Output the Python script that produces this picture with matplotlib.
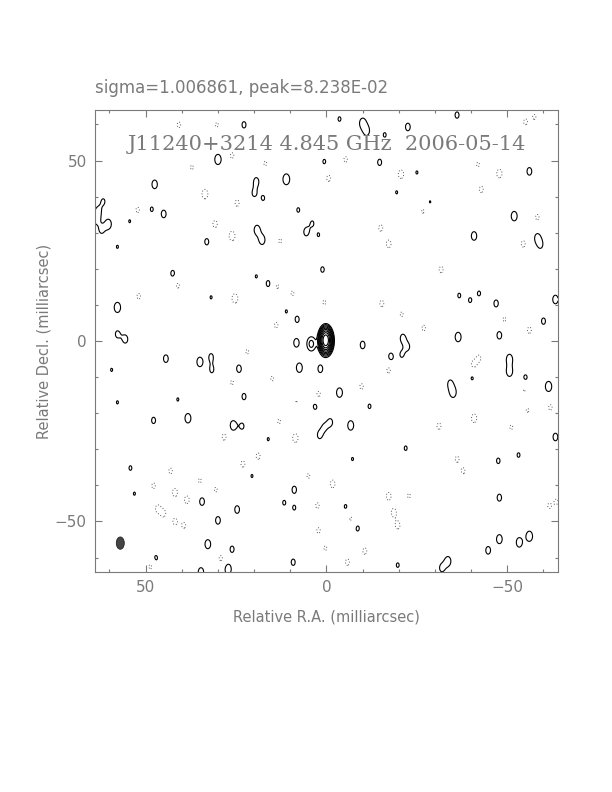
import numpy as np
import matplotlib
matplotlib.use("Agg")
import matplotlib.pyplot as plt
from matplotlib.patches import Ellipse

# map text
title = "J11240+3214 4.845 GHz  2006-05-14"
header = "sigma=1.006861, peak=8.238E-02"

# bright core: x, y (mas), peak (in units of lowest contour), sigma x, sigma y
core = (0.2, 0.2, 500.0, 0.62, 1.25)
# faint halo around the core: x, y, peak, sigma x, sigma y
halo = (0.2, 0.0, 12.0, 1.0, 1.9)

# positive noise peaks: RA offset (mas), Dec offset (mas), amplitude
pos_blobs = [
    (22.8, 59.9, 1.2), (30.0, 50.3, 1.6), (47.5, 43.4, 1.4), (19.4, 44.2, 1.3),
    (11.1, 44.8, 1.7), (20.0, 40.9, 1.15), (17.5, 39.6, 1.1), (0.6, 49.7, 1.1),
    (61.7, 38.7, 1.1), (63.1, 36.0, 1.15), (63.6, 33.8, 1.3), (60.3, 32.4, 1.5),
    (62.2, 30.8, 1.2), (54.4, 33.2, 1.05), (48.3, 36.5, 1.1), (45.0, 35.2, 1.3),
    (7.8, 36.3, 1.1), (3.9, 32.7, 1.05), (5.6, 30.2, 1.3), (2.2, 29.4, 1.05),
    (19.2, 30.8, 1.45), (17.8, 28.0, 1.45), (33.1, 27.5, 1.2), (57.8, 26.1, 1.05),
    (42.5, 18.7, 1.2), (19.4, 17.9, 1.05), (16.1, 15.9, 1.2), (1.1, 19.8, 1.15),
    (57.8, 9.3, 1.6), (31.9, 12.1, 1.05), (11.1, 8.2, 1.05), (8.1, 6.0, 1.2),
    (57.8, 1.9, 1.2), (55.6, 0.5, 1.3), (8.3, -0.5, 1.4), (4.2, -0.8, 2.5),
    (-3.6, 61.5, 1.1), (-10.0, 60.4, 1.5), (-11.1, 58.2, 1.4), (-22.5, 59.3, 1.3),
    (-16.1, 57.1, 1.1), (-36.1, 62.6, 1.2), (-14.7, 49.5, 1.2), (-56.1, 47.0, 1.3),
    (-25.0, 46.7, 1.05), (-19.4, 41.2, 1.05), (-28.6, 38.5, 1.05), (-51.9, 34.6, 1.5),
    (-40.8, 29.1, 1.4), (-58.3, 28.6, 1.3), (-59.2, 26.6, 1.1), (-36.7, 12.6, 1.1),
    (-42.2, 13.2, 1.1), (-39.7, 11.3, 1.1), (-46.9, 10.4, 1.25), (-63.3, 11.5, 1.4),
    (-60.0, 5.5, 1.2), (-21.1, 0.8, 1.3), (-36.4, 1.1, 1.5), (-47.8, 1.6, 1.3),
    (-10.0, -1.1, 1.3), (44.4, -4.9, 1.3), (35.0, -5.8, 1.5), (31.9, -4.4, 1.2),
    (31.7, -8.0, 1.15), (24.2, -7.7, 1.3), (7.5, -7.4, 1.5), (1.7, -7.7, 1.3),
    (59.4, -8.0, 1.05), (57.8, -17.0, 1.05), (41.1, -16.2, 1.05), (22.8, -15.4, 1.2),
    (6.4, -17.6, 1.1), (3.1, -18.1, 1.2), (47.8, -22.0, 1.2), (38.3, -21.4, 1.5),
    (25.8, -23.4, 1.5), (23.3, -23.6, 1.15), (-1.1, -22.5, 1.2), (0.6, -23.9, 1.05),
    (1.9, -26.1, 1.2), (16.1, -27.2, 1.05), (54.2, -35.2, 1.1), (53.1, -42.3, 1.05),
    (20.6, -37.4, 1.05), (8.9, -41.2, 1.25), (34.4, -44.5, 1.3), (24.7, -46.7, 1.3),
    (11.7, -44.8, 1.1), (8.9, -46.2, 1.1), (30.0, -49.7, 1.3), (32.8, -56.3, 1.45),
    (26.1, -57.7, 1.2), (47.2, -60.2, 1.2), (9.2, -61.3, 1.2), (34.7, -64.0, 1.4),
    (27.2, -63.2, 1.6), (-22.5, -1.6, 1.1), (-17.8, -4.4, 1.3), (-20.8, -3.8, 1.1),
    (-50.6, -5.0, 1.5), (-50.6, -8.5, 1.5), (-40.3, -10.2, 1.1), (-55.0, -10.2, 1.2),
    (-34.2, -11.8, 1.2), (-35.0, -14.3, 1.5), (-3.6, -14.3, 1.5), (-61.4, -12.6, 1.6),
    (-6.7, -23.4, 1.5), (-63.3, -26.6, 1.3), (-55.6, -22.5, 1.1), (-53.1, -31.6, 1.1),
    (-47.5, -33.2, 1.15), (-21.9, -29.7, 1.1), (-11.9, -18.1, 1.1), (-7.2, -32.7, 1.05),
    (-47.8, -43.4, 1.25), (-5.3, -45.9, 1.1), (-8.6, -51.9, 1.15), (-56.1, -54.1, 1.6),
    (-53.3, -55.8, 1.5), (-47.8, -54.9, 1.45), (-44.7, -58.0, 1.3), (-60.0, -47.8, 1.1),
    (-33.6, -61.0, 1.45), (-31.9, -62.9, 1.25), (-19.7, -62.1, 1.1),
]

# negative noise dips (drawn dotted): RA offset, Dec offset, amplitude
neg_blobs = [
    (40.8, 59.9, -1.15), (30.3, 59.9, -1.1), (26.1, 51.4, -1.15), (37.2, 48.1, -1.1),
    (16.9, 49.2, -1.1), (33.6, 40.7, -1.5), (24.7, 38.2, -1.2), (52.2, 36.3, -1.15),
    (30.8, 32.4, -1.25), (26.1, 29.1, -1.5), (12.8, 27.7, -1.1), (41.1, 15.4, -1.15),
    (51.9, 12.4, -1.15), (25.3, 11.8, -1.5), (13.6, 15.1, -1.1), (13.9, 4.4, -1.15),
    (9.4, 13.2, -1.1), (0.6, 10.7, -1.1), (-0.6, 45.1, -1.2), (-5.3, 50.3, -1.15),
    (-20.6, 46.2, -1.4), (-41.9, 48.9, -1.1), (-47.8, 46.4, -1.4), (-42.8, 42.0, -1.2),
    (-57.5, 62.1, -1.1), (-55.0, 60.7, -1.15), (-58.3, 34.3, -1.15), (-54.4, 26.9, -1.2),
    (-26.7, 36.0, -1.1), (-15.0, 31.3, -1.2), (-17.2, 26.9, -1.3), (-31.7, 19.8, -1.2),
    (-15.3, 10.4, -1.2), (-20.8, 7.4, -1.1), (-26.9, 3.6, -1.15), (-56.1, 3.0, -1.2),
    (-49.2, 6.0, -1.1), (21.9, -3.0, -1.1), (15.0, -10.4, -1.1), (26.1, -11.5, -1.1),
    (2.2, -14.8, -1.2), (8.1, -16.8, -1.15), (8.6, -26.9, -1.4), (28.3, -26.6, -1.2),
    (18.9, -31.9, -1.2), (23.1, -34.1, -1.2), (43.1, -36.0, -1.15), (35.0, -38.7, -1.1),
    (47.8, -40.1, -1.15), (30.6, -41.2, -1.1), (41.9, -42.0, -1.35), (38.6, -44.0, -1.3),
    (46.7, -46.4, -1.2), (45.0, -47.8, -1.15), (41.9, -50.0, -1.2), (39.4, -51.1, -1.15),
    (5.0, -37.4, -1.1), (2.5, -45.6, -1.15), (2.2, -52.5, -1.15), (48.6, -62.4, -1.2),
    (29.2, -60.2, -1.15), (13.1, -22.3, -1.1), (-17.2, -8.0, -1.2), (-9.7, -12.6, -1.15),
    (-40.6, -6.6, -1.2), (-42.2, -4.7, -1.1), (-40.8, -21.4, -1.4), (-31.1, -23.6, -1.2),
    (-51.1, -23.9, -1.1), (-55.6, -19.5, -1.2), (-61.9, -18.4, -1.15), (-36.1, -32.7, -1.15),
    (-37.8, -36.0, -1.15), (-1.7, -39.6, -1.3), (-17.2, -43.0, -1.3), (-18.6, -47.5, -1.3),
    (-19.7, -51.1, -1.25), (-6.7, -49.2, -1.1), (-10.6, -58.2, -1.2), (-5.8, -61.3, -1.2),
    (-61.4, -45.9, -1.2), (-63.6, -44.5, -1.1), (-22.8, -42.9, -1.1), (-54.7, -13.5, -1.1),
    (0.3, -57.4, -1.1),
]

# restoring beam: centre, full width, full height (mas)
beam = (57.0, -56.0, 2.2, 3.4)

levels_pos = [1, 2, 4, 8, 16, 32, 64, 128, 256]
levels_neg = [-1]

# build the map
x = np.linspace(-64, 64, 641)
y = np.linspace(-64, 64, 641)
X, Y = np.meshgrid(x, y)
img = np.zeros_like(X)
for cx, cy, cpk, csx, csy in (core, halo):
    img += cpk * np.exp(-((X - cx) ** 2 / (2 * csx ** 2) + (Y - cy) ** 2 / (2 * csy ** 2)))
sx, sy = 0.9, 1.45
for bx, by, a in pos_blobs + neg_blobs:
    img += a * np.exp(-((X - bx) ** 2 / (2 * sx ** 2) + (Y - by) ** 2 / (2 * sy ** 2)))

grey = "#7a7a7a"
fig = plt.figure(figsize=(6.12, 7.92), dpi=100)
ax = fig.add_axes([0.1552, 0.2778, 0.7565, 0.5833])

ax.contour(X, Y, img, levels=levels_pos, colors="black", linewidths=0.8, linestyles="solid")
ax.contour(X, Y, img, levels=levels_neg, colors="#555555", linewidths=0.7,
           linestyles=[(0, (1, 2))])

bx, by, bw, bh = beam
ax.add_patch(Ellipse((bx, by), bw, bh, facecolor="#444444", edgecolor="#222222", lw=0.6))

ax.set_xlim(64, -64)
ax.set_ylim(-64, 64)
ax.set_aspect("auto")

ax.set_xticks([50, 0, -50])
ax.set_yticks([-50, 0, 50])
ax.set_xticks(np.arange(-60, 61, 10), minor=True)
ax.set_yticks(np.arange(-60, 61, 10), minor=True)
ax.tick_params(which="both", direction="in", top=True, right=True, color=grey, width=0.8)
ax.tick_params(which="major", length=5, labelsize=11, labelcolor=grey, pad=6)
ax.tick_params(which="minor", length=2.5)
for s in ax.spines.values():
    s.set_color(grey)
    s.set_linewidth(0.8)

ax.set_xlabel("Relative R.A. (milliarcsec)", fontsize=10.5, color=grey, labelpad=10)
ax.set_ylabel("Relative Decl. (milliarcsec)", fontsize=10.5, color=grey, labelpad=2)

ax.text(0.5, 0.925, title, transform=ax.transAxes, ha="center", va="center",
        fontsize=15, color=grey, family="DejaVu Serif")
fig.text(0.1552, 0.889, header, ha="left", va="center", fontsize=12, color=grey)

fig.savefig("out.png", dpi=100)
